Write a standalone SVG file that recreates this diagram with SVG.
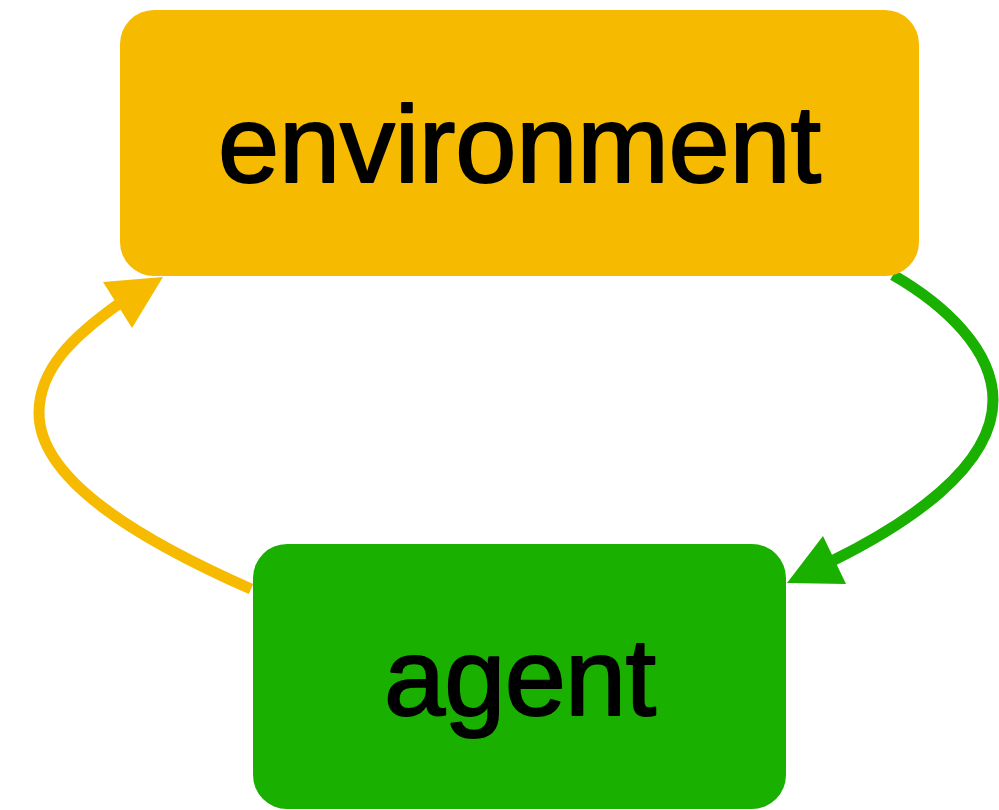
<svg xmlns="http://www.w3.org/2000/svg" width="999" height="810" viewBox="0 0 999 810">
  <style>
    .label { font-family: "Liberation Sans", Arial, sans-serif; font-size: 110px; fill: #000; stroke: #000; stroke-width: 2; stroke-linejoin: round; text-anchor: middle; }
    .link { fill: none; stroke-width: 11; }
  </style>

  <g id="connectors">
    <!-- agent -> environment (action) -->
    <path class="link" stroke="#F6BB00" d="M251 589 C140 540 39 480 39 413 C39 368 75 335 120 303" />
    <path d="M163 277 L103 282 L132 328 Z" fill="#F6BB00"/>
    <!-- environment -> agent (observation) -->
    <path class="link" stroke="#1AB000" d="M893 275 C945 305 993 350 993 400 C993 468 905 525 832 561" />
    <path d="M787 583 L823 536 L846 584 Z" fill="#1AB000"/>
  </g>

  <g id="environment">
    <rect x="120" y="10" width="799" height="266" rx="34" fill="#F6BB00"/>
    <text class="label" x="519.5" y="182" textLength="603" lengthAdjust="spacing">environment</text>
  </g>

  <g id="agent">
    <rect x="253" y="544" width="533" height="265" rx="34" fill="#1AB000"/>
    <text class="label" x="520" y="715" textLength="272" lengthAdjust="spacing">agent</text>
  </g>
</svg>
